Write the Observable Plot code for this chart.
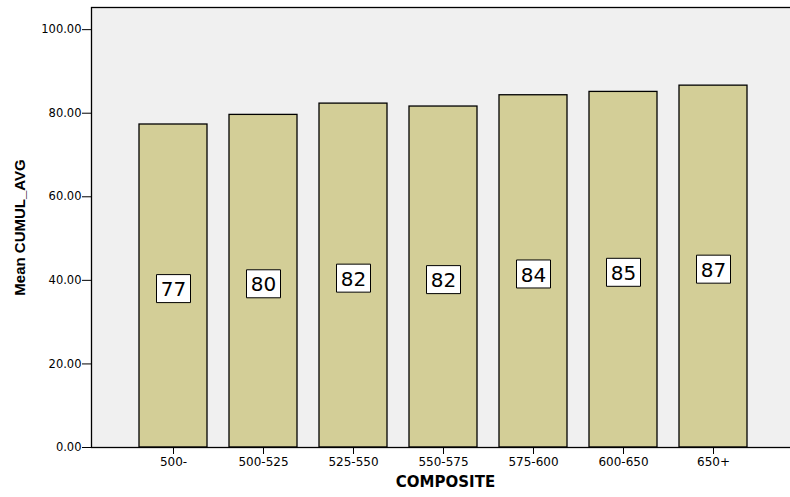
<!DOCTYPE html>
<html>
<head>
<meta charset="utf-8">
<script src="https://cdn.jsdelivr.net/npm/d3@7"></script>
<script src="https://cdn.jsdelivr.net/npm/@observablehq/plot@0.6"></script>
<style>
  html, body { margin: 0; padding: 0; background: #fff; overflow: hidden; }
  #chart { width: 790px; height: 497px; overflow: hidden; }
  #chart svg { max-width: none !important; display: block; }
</style>
</head>
<body>
<div id="chart"></div>
<script>
// Mean cumulative average by composite score band
const categories = ["500-", "500-525", "525-550", "550-575", "575-600", "600-650", "650+"];
const means = [77.3, 79.6, 82.3, 81.6, 84.3, 85.1, 86.6];
const yTicks = [0, 20, 40, 60, 80, 100];

const data = categories.map((c, i) => ({band: c, mean: means[i]}));

// Rectangular label box, fixed size in pixels
const labelBox = {
  draw(context) {
    context.rect(-17, -14, 34, 28);
  }
};

const chart = Plot.plot({
  width: 800,
  height: 497,
  marginTop: 7,
  marginLeft: 91,
  marginRight: 5,
  marginBottom: 50,
  style: {fontFamily: "DejaVu Sans", fontSize: "12px", color: "black", background: "white", maxWidth: "none"},
  x: {domain: categories, paddingInner: 0.25, paddingOuter: 0.5, label: null},
  y: {domain: [0, 105.3], label: null},
  marks: [
    Plot.frame({fill: "#f0f0f0"}),
    Plot.barY(data, {x: "band", y: "mean", fill: "#d3ce97", stroke: "black", strokeWidth: 1.3}),
    Plot.dot(data, {x: "band", y: d => d.mean / 2, symbol: labelBox, r: 10, fill: "white", stroke: "black", strokeWidth: 1, dy: 2.6}),
    Plot.text(data, {x: "band", y: d => d.mean / 2, text: d => String(Math.round(d.mean)), fontSize: 20, fill: "black", dy: 3.8}),
    Plot.axisY({ticks: yTicks, tickFormat: d3.format(".2f"), tickSize: 9, tickPadding: 1, label: null, fontSize: 11.5}),
    Plot.axisX({tickSize: 7, tickPadding: 3, label: null, fontSize: 12}),
    Plot.frame({stroke: "black", strokeWidth: 1.3}),
    Plot.text(["COMPOSITE"], {frameAnchor: "bottom", dy: 39, dx: 2, fontWeight: "bold", fontSize: 15, fill: "black", fontFamily: "DejaVu Sans", style: "letter-spacing:2.5px"}),
    Plot.text(["Mean CUMUL_AVG"], {frameAnchor: "left", textAnchor: "middle", dx: -71, rotate: -90, fontWeight: "bold", fontSize: 15, fontFamily: "Liberation Sans", fill: "black"})
  ]
});

document.getElementById("chart").append(chart);
</script>
</body>
</html>
